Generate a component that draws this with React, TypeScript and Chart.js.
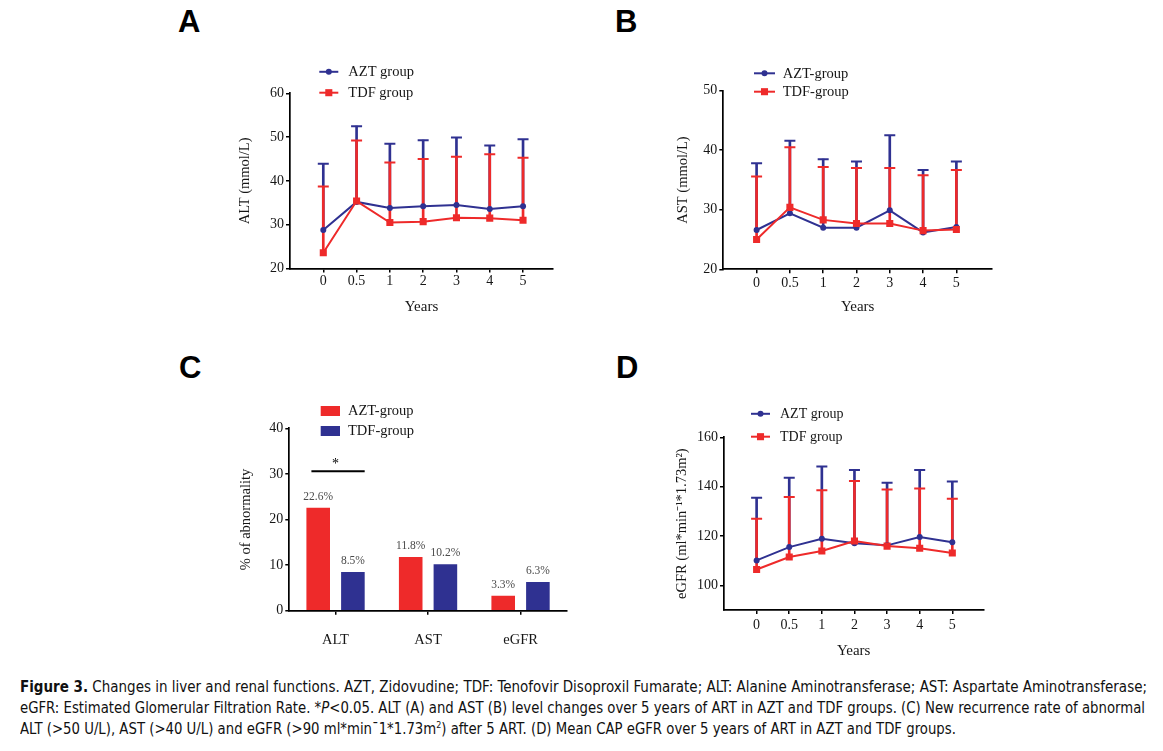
import React, { useEffect, useLayoutEffect, useRef, useState } from 'react';
import { Chart, registerables } from 'chart.js';

Chart.register(...registerables);

// ---------------- DATA ----------------
const YEARS = ['0', '0.5', '1', '2', '3', '4', '5'];

const ALT_AZT_MEAN = [28.8, 35.2, 33.8, 34.2, 34.5, 33.6, 34.2];
const ALT_AZT_UPPER = [43.9, 52.5, 48.5, 49.3, 49.9, 48.1, 49.5];
const ALT_TDF_MEAN = [23.6, 35.4, 30.5, 30.7, 31.6, 31.5, 31.0];
const ALT_TDF_UPPER = [38.7, 49.2, 44.2, 45.0, 45.5, 46.1, 45.3];

const AST_AZT_MEAN = [26.6, 29.4, 27.0, 27.0, 29.9, 26.2, 27.1];
const AST_AZT_UPPER = [37.8, 41.6, 38.5, 38.1, 42.5, 36.7, 38.1];
const AST_TDF_MEAN = [25.0, 30.4, 28.3, 27.7, 27.7, 26.5, 26.7];
const AST_TDF_UPPER = [35.6, 40.5, 37.2, 37.0, 37.0, 35.8, 36.7];

const EGFR_AZT_MEAN = [110.1, 115.5, 118.9, 117.1, 116.2, 119.6, 117.5];
const EGFR_AZT_UPPER = [135.5, 143.6, 148.2, 146.7, 141.6, 146.7, 142.1];
const EGFR_TDF_MEAN = [106.4, 111.5, 113.9, 118.0, 115.9, 115.0, 113.1];
const EGFR_TDF_UPPER = [127.0, 135.8, 138.5, 142.3, 138.8, 139.2, 135.1];

const ABN_CATEGORIES = ['ALT', 'AST', 'eGFR'];
const ABN_AZT = [22.6, 11.8, 3.3];
const ABN_TDF = [8.5, 10.2, 6.3];
const ABN_SIG_LEVEL = 30.6;

const ALT_Y_TICKS = [20, 30, 40, 50, 60];
const AST_Y_TICKS = [20, 30, 40, 50];
const EGFR_Y_TICKS = [100, 120, 140, 160];

// ---------------- STYLE ----------------
const SERIF = "'Liberation Serif', 'Times New Roman', Times, serif";
const SANS = "'Liberation Sans', Arial, Helvetica, sans-serif";
const CAPTION_FONT =
  "'Liberation Sans Narrow', 'Arial Narrow', 'DejaVu Sans Condensed', 'Roboto Condensed', 'Liberation Sans', Arial, sans-serif";
const BLUE = '#2f3191';
const RED = '#ee2a2a';
const INK = '#161616';

type Series = {
  label: string;
  mean: number[];
  upper: number[];
  color: string;
  pointStyle: 'circle' | 'rect';
  pointRadius: number;
};

type LineCfg = {
  box: { left: number; top: number; width: number; height: number };
  area: { left: number; top: number; bottom: number; right: number };
  yMin: number;
  yMax: number;
  yTicks: number[];
  xMax: number;
  yTitle: string;
  xLabelOff: number;
  xTitleOff: number;
  yTitleOff: number;
  legend: { x0: number; x1: number; textX: number; rows: number[]; fontSize: number };
  series: Series[];
};

const Y_W = 70;
const X_H = 60;
const TICK_FONT = 14;
const TITLE_FONT = 14.5;

function lineLegendPlugin(cfg: LineCfg) {
  return {
    id: 'lineLegend',
    afterDraw(chart: any) {
      const { ctx, chartArea } = chart;
      const lg = cfg.legend;
      ctx.save();
      cfg.series.forEach((s, k) => {
        const y = chartArea.top + lg.rows[k];
        const x0 = chartArea.left + lg.x0;
        const x1 = chartArea.left + lg.x1;
        ctx.strokeStyle = s.color;
        ctx.lineWidth = 2;
        ctx.beginPath();
        ctx.moveTo(x0, y);
        ctx.lineTo(x1, y);
        ctx.stroke();
        ctx.fillStyle = s.color;
        const cx = (x0 + x1) / 2;
        if (s.pointStyle === 'circle') {
          ctx.beginPath();
          ctx.arc(cx, y, s.pointRadius, 0, Math.PI * 2);
          ctx.fill();
        } else {
          const h = s.pointRadius * Math.SQRT1_2;
          ctx.fillRect(cx - h, y - h, 2 * h, 2 * h);
        }
        ctx.fillStyle = INK;
        ctx.font = `${lg.fontSize}px ${SERIF}`;
        ctx.textAlign = 'left';
        ctx.textBaseline = 'middle';
        ctx.fillText(s.label, chartArea.left + lg.textX, y + 0.5);
      });
      ctx.restore();
    },
  };
}

function buildLineConfig(cfg: LineCfg): any {
  const n = cfg.series.length;
  const datasets: any[] = [];
  cfg.series.forEach((s, k) => {
    datasets.push({
      type: 'line',
      label: s.label,
      data: s.mean.map((v, i) => ({ x: i, y: v })),
      borderColor: s.color,
      backgroundColor: s.color,
      borderWidth: 2,
      pointStyle: s.pointStyle,
      pointRadius: s.pointRadius,
      pointBackgroundColor: s.color,
      pointBorderColor: s.color,
      pointBorderWidth: 0,
      tension: 0,
      order: n - 1 - k,
    });
    datasets.push({
      type: 'bar',
      label: s.label + ' SD',
      data: s.mean.map((v, i) => ({ x: i, y: [v, s.upper[i]] })),
      backgroundColor: s.color,
      borderWidth: 0,
      barThickness: 2,
      grouped: false,
      order: n + (n - 1 - k),
    });
    datasets.push({
      type: 'line',
      label: s.label + ' cap',
      data: s.upper.map((v, i) => ({ x: i, y: v })),
      showLine: false,
      pointStyle: 'line',
      pointRadius: 5.5,
      pointBorderWidth: 2,
      pointBorderColor: s.color,
      borderColor: s.color,
      order: n + (n - 1 - k),
    });
  });

  const { box, area } = cfg;
  const tickLh = TICK_FONT * 1.2;
  const titleLh = TITLE_FONT * 1.2;
  return {
    type: 'line',
    data: { datasets },
    options: {
      animation: false,
      responsive: false,
      events: [],
      layout: {
        padding: {
          left: area.left - box.left - Y_W,
          top: area.top - box.top,
          right: box.left + box.width - area.right,
          bottom: box.top + box.height - area.bottom - X_H,
        },
      },
      plugins: { legend: { display: false }, tooltip: { enabled: false } },
      scales: {
        x: {
          type: 'linear',
          offset: false,
          min: -1,
          max: cfg.xMax,
          afterBuildTicks: (s: any) => {
            s.ticks = YEARS.map((_, i) => ({ value: i }));
          },
          afterFit: (s: any) => {
            s.height = X_H;
          },
          grid: {
            display: true,
            offset: false,
            drawOnChartArea: false,
            drawTicks: true,
            tickLength: 4,
            color: '#000',
            lineWidth: 1.5,
          },
          border: { display: true, color: '#000', width: 1.7 },
          ticks: {
            autoSkip: false,
            maxRotation: 0,
            padding: cfg.xLabelOff - 4 - tickLh / 2,
            color: INK,
            font: { family: SERIF, size: TICK_FONT },
            callback: (v: any) => YEARS[v] ?? '',
          },
          title: {
            display: true,
            text: 'Years',
            color: INK,
            font: { family: SERIF, size: TITLE_FONT + 0.5 },
            padding: { top: 0, bottom: X_H - cfg.xTitleOff - (TITLE_FONT + 0.5) * 0.6 },
          },
        },
        y: {
          type: 'linear',
          min: cfg.yMin,
          max: cfg.yMax,
          afterBuildTicks: (s: any) => {
            s.ticks = cfg.yTicks.map((v) => ({ value: v }));
          },
          afterFit: (s: any) => {
            s.width = Y_W;
          },
          grid: {
            display: true,
            drawOnChartArea: false,
            drawTicks: true,
            tickLength: 4,
            color: '#000',
            lineWidth: 1.5,
          },
          border: { display: true, color: '#000', width: 1.7 },
          ticks: {
            autoSkip: false,
            padding: 2,
            color: INK,
            font: { family: SERIF, size: TICK_FONT },
          },
          title: {
            display: true,
            text: cfg.yTitle,
            color: INK,
            font: { family: SERIF, size: TITLE_FONT },
            padding: { top: Y_W - cfg.yTitleOff - titleLh / 2, bottom: 0 },
          },
        },
      },
    },
    plugins: [lineLegendPlugin(cfg)],
  };
}

function LinePanel({ cfg }: { cfg: LineCfg }) {
  const ref = useRef<HTMLCanvasElement>(null);
  useEffect(() => {
    const chart = new Chart(ref.current as HTMLCanvasElement, buildLineConfig(cfg));
    return () => chart.destroy();
  }, [cfg]);
  const { box } = cfg;
  return (
    <canvas
      ref={ref}
      width={box.width}
      height={box.height}
      style={{ position: 'absolute', left: box.left, top: box.top, width: box.width, height: box.height }}
    />
  );
}

const PANEL_A: LineCfg = {
  box: { left: 180, top: 45, width: 400, height: 285 },
  area: { left: 290, top: 93.3, bottom: 268.5, right: 553 },
  yMin: 20,
  yMax: 60,
  yTicks: ALT_Y_TICKS,
  xMax: 6.9,
  yTitle: 'ALT (mmol/L)',
  xLabelOff: 12.5,
  xTitleOff: 38.5,
  yTitleOff: 44.7,
  legend: { x0: 29.3, x1: 48.3, textX: 58.3, rows: [-21.5, -0.6], fontSize: 14.5 },
  series: [
    { label: 'AZT group', mean: ALT_AZT_MEAN, upper: ALT_AZT_UPPER, color: BLUE, pointStyle: 'circle', pointRadius: 3 },
    { label: 'TDF group', mean: ALT_TDF_MEAN, upper: ALT_TDF_UPPER, color: RED, pointStyle: 'rect', pointRadius: 5 },
  ],
};

const PANEL_B: LineCfg = {
  box: { left: 620, top: 45, width: 400, height: 285 },
  area: { left: 723.3, top: 90.7, bottom: 269.3, right: 992 },
  yMin: 20,
  yMax: 50,
  yTicks: AST_Y_TICKS,
  xMax: 7.07,
  yTitle: 'AST (mmol/L)',
  xLabelOff: 14,
  xTitleOff: 38,
  yTitleOff: 40,
  legend: { x0: 30.7, x1: 51.7, textX: 59.4, rows: [-17.4, 1], fontSize: 14.5 },
  series: [
    { label: 'AZT-group', mean: AST_AZT_MEAN, upper: AST_AZT_UPPER, color: BLUE, pointStyle: 'circle', pointRadius: 3 },
    { label: 'TDF-group', mean: AST_TDF_MEAN, upper: AST_TDF_UPPER, color: RED, pointStyle: 'rect', pointRadius: 5 },
  ],
};

const PANEL_D: LineCfg = {
  box: { left: 620, top: 385, width: 400, height: 290 },
  area: { left: 724, top: 437.3, bottom: 610, right: 983.3 },
  yMin: 90,
  yMax: 160,
  yTicks: EGFR_Y_TICKS,
  xMax: 6.95,
  yTitle: 'eGFR (ml*min\u207B\u00B9*1.73m\u00B2)',
  xLabelOff: 15.5,
  xTitleOff: 41,
  yTitleOff: 41.5,
  legend: { x0: 27, x1: 46, textX: 56, rows: [-23.5, -0.6], fontSize: 14 },
  series: [
    { label: 'AZT group', mean: EGFR_AZT_MEAN, upper: EGFR_AZT_UPPER, color: BLUE, pointStyle: 'circle', pointRadius: 3 },
    { label: 'TDF group', mean: EGFR_TDF_MEAN, upper: EGFR_TDF_UPPER, color: RED, pointStyle: 'rect', pointRadius: 5 },
  ],
};

// ---------------- PANEL C (bars) ----------------
const C_BOX = { left: 180, top: 385, width: 400, height: 290 };
const C_AREA = { left: 289.3, top: 428.3, bottom: 610.7, right: 566.8 };

const barExtrasPlugin = {
  id: 'barExtras',
  afterDatasetsDraw(chart: any) {
    const { ctx, chartArea } = chart;
    ctx.save();
    // value labels
    ctx.font = `11.5px ${SERIF}`;
    ctx.fillStyle = '#4a4a4a';
    ctx.textAlign = 'center';
    ctx.textBaseline = 'alphabetic';
    chart.data.datasets.forEach((ds: any, i: number) => {
      const meta = chart.getDatasetMeta(i);
      meta.data.forEach((bar: any, j: number) => {
        ctx.fillText(`${ds.data[j].toFixed(1)}%`, bar.x, bar.y - 8);
      });
    });
    // significance bracket over ALT
    const b0 = chart.getDatasetMeta(0).data[0];
    const b1 = chart.getDatasetMeta(1).data[0];
    const y = chart.scales.y.getPixelForValue(ABN_SIG_LEVEL);
    ctx.strokeStyle = '#000';
    ctx.lineWidth = 2;
    ctx.beginPath();
    ctx.moveTo(b0.x - b0.width / 2 + 5, y);
    ctx.lineTo(b1.x + b1.width / 2, y);
    ctx.stroke();
    ctx.fillStyle = '#000';
    ctx.font = `14px ${SERIF}`;
    ctx.fillText('*', chart.scales.x.getPixelForValue(0), y - 3);
    // legend
    const rows = [-17.3, 2.7];
    chart.data.datasets.forEach((ds: any, i: number) => {
      const cy = chartArea.top + rows[i];
      ctx.fillStyle = ds.backgroundColor;
      ctx.fillRect(chartArea.left + 31.4, cy - 5, 19.3, 10);
      ctx.fillStyle = INK;
      ctx.font = `14.5px ${SERIF}`;
      ctx.textAlign = 'left';
      ctx.textBaseline = 'middle';
      ctx.fillText(ds.label, chartArea.left + 58.7, cy + 0.5);
      ctx.textAlign = 'center';
      ctx.textBaseline = 'alphabetic';
    });
    ctx.restore();
  },
};

function BarPanel() {
  const ref = useRef<HTMLCanvasElement>(null);
  useEffect(() => {
    const labelLh = 14.5 * 1.2;
    const titleLh = TITLE_FONT * 1.2;
    const chart = new Chart(ref.current as HTMLCanvasElement, {
      type: 'bar',
      data: {
        labels: ABN_CATEGORIES,
        datasets: [
          {
            label: 'AZT-group',
            data: ABN_AZT,
            backgroundColor: RED,
            categoryPercentage: 0.75,
            barPercentage: 0.68,
          },
          {
            label: 'TDF-group',
            data: ABN_TDF,
            backgroundColor: BLUE,
            categoryPercentage: 0.75,
            barPercentage: 0.68,
          },
        ],
      },
      options: {
        animation: false,
        responsive: false,
        events: [],
        layout: {
          padding: {
            left: C_AREA.left - C_BOX.left - Y_W,
            top: C_AREA.top - C_BOX.top,
            right: C_BOX.left + C_BOX.width - C_AREA.right,
            bottom: C_BOX.top + C_BOX.height - C_AREA.bottom - X_H,
          },
        },
        plugins: { legend: { display: false }, tooltip: { enabled: false } },
        scales: {
          x: {
            afterFit: (s: any) => {
              s.height = X_H;
            },
            grid: {
              display: true,
              offset: false,
              drawOnChartArea: false,
              drawTicks: true,
              tickLength: 4,
              color: '#000',
              lineWidth: 1.5,
            },
            border: { display: true, color: '#000', width: 1.7 },
            ticks: {
              padding: 29.3 - 4 - labelLh / 2,
              color: INK,
              font: { family: SERIF, size: 14.5 },
            },
          },
          y: {
            min: 0,
            max: 40,
            afterFit: (s: any) => {
              s.width = Y_W;
            },
            ticks: { stepSize: 10, padding: 2, color: INK, font: { family: SERIF, size: TICK_FONT } },
            grid: {
              display: true,
              drawOnChartArea: false,
              drawTicks: true,
              tickLength: 4,
              color: '#000',
              lineWidth: 1.5,
            },
            border: { display: true, color: '#000', width: 1.7 },
            title: {
              display: true,
              text: '% of abnormality',
              color: INK,
              font: { family: SERIF, size: TITLE_FONT },
              padding: { top: Y_W - 43.3 - titleLh / 2, bottom: 0 },
            },
          },
        },
      },
      plugins: [barExtrasPlugin],
    } as any);
    return () => chart.destroy();
  }, []);
  return (
    <canvas
      ref={ref}
      width={C_BOX.width}
      height={C_BOX.height}
      style={{ position: 'absolute', left: C_BOX.left, top: C_BOX.top, width: C_BOX.width, height: C_BOX.height }}
    />
  );
}

// ---------------- CAPTION ----------------
function Caption() {
  const r0 = useRef<HTMLSpanElement>(null);
  const r1 = useRef<HTMLSpanElement>(null);
  const r2 = useRef<HTMLSpanElement>(null);
  const [st, setSt] = useState<React.CSSProperties[]>([{}, {}, {}]);
  useLayoutEffect(() => {
    const refs = [r0, r1, r2];
    const targets = [1127, 1125];
    const widths = refs.map((r) => (r.current as HTMLSpanElement).getBoundingClientRect().width);
    let minScale = 1;
    const next: React.CSSProperties[] = widths.map((w, i) => {
      if (i >= 2) return {};
      const t = targets[i];
      const spaces = ((refs[i].current as HTMLSpanElement).textContent || '').split(' ').length - 1;
      if (w <= t) return { wordSpacing: `${(t - w) / spaces}px` };
      const s = t / w;
      minScale = Math.min(minScale, s);
      return { transform: `scaleX(${s})`, transformOrigin: 'left center' };
    });
    if (minScale < 1) next[2] = { transform: `scaleX(${minScale})`, transformOrigin: 'left center' };
    setSt(next);
  }, []);
  const lineStyle = (top: number): React.CSSProperties => ({
    position: 'absolute',
    left: 20,
    top,
    height: 21,
    lineHeight: '21px',
    whiteSpace: 'nowrap',
    fontFamily: CAPTION_FONT,
    fontSize: 15,
    color: '#111',
  });
  return (
    <>
      <div style={lineStyle(676.5)}>
        <span ref={r0} style={{ display: 'inline-block', ...st[0] }}>
          <b>Figure 3.</b> Changes in liver and renal functions. AZT, Zidovudine; TDF: Tenofovir Disoproxil Fumarate; ALT: Alanine Aminotransferase; AST: Aspartate Aminotransferase;
        </span>
      </div>
      <div style={lineStyle(697.5)}>
        <span ref={r1} style={{ display: 'inline-block', ...st[1] }}>
          eGFR: Estimated Glomerular Filtration Rate. *<i>P</i>&lt;0.05. ALT (A) and AST (B) level changes over 5 years of ART in AZT and TDF groups. (C) New recurrence rate of abnormal
        </span>
      </div>
      <div style={lineStyle(718.5)}>
        <span ref={r2} style={{ display: 'inline-block', ...st[2] }}>
          ALT (&gt;50 U/L), AST (&gt;40 U/L) and eGFR (&gt;90 ml*min¯1*1.73m<sup style={{ fontSize: 9, lineHeight: 0 }}>2</sup>) after 5 ART. (D) Mean CAP eGFR over 5 years of ART in AZT and TDF groups.
        </span>
      </div>
    </>
  );
}

function Letter({ ch, left, top }: { ch: string; left: number; top: number }) {
  return (
    <div
      style={{
        position: 'absolute',
        left,
        top,
        fontFamily: SANS,
        fontWeight: 'bold',
        fontSize: 31,
        lineHeight: '31px',
        color: '#000',
      }}
    >
      {ch}
    </div>
  );
}

export default function App() {
  return (
    <div style={{ position: 'absolute', left: 0, top: 0, width: 1163, height: 751, background: '#fff', overflow: 'hidden' }}>
      <Letter ch="A" left={178} top={6} />
      <Letter ch="B" left={615} top={6} />
      <Letter ch="C" left={179} top={352} />
      <Letter ch="D" left={616} top={352} />
      <LinePanel cfg={PANEL_A} />
      <LinePanel cfg={PANEL_B} />
      <BarPanel />
      <LinePanel cfg={PANEL_D} />
      <Caption />
    </div>
  );
}
